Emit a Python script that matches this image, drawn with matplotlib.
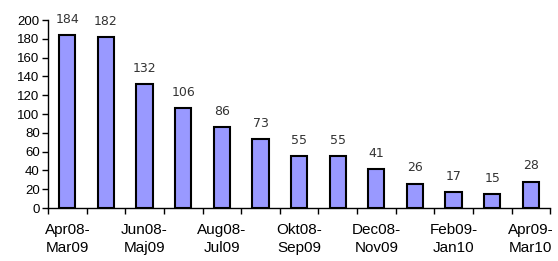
import matplotlib
matplotlib.use("Agg")
import matplotlib.pyplot as plt
import numpy as np

values = [184, 182, 132, 106, 86, 73, 55, 55, 41, 26, 17, 15, 28]
tick_labels = ["Apr08-\nMar09", "", "Jun08-\nMaj09", "", "Aug08-\nJul09", "",
               "Okt08-\nSep09", "", "Dec08-\nNov09", "", "Feb09-\nJan10", "",
               "Apr09-\nMar10"]

fig = plt.figure(figsize=(5.58, 2.61), dpi=100)
ax = fig.add_axes([0.086, 0.203, 0.900, 0.720])
x = np.arange(len(values))
ax.bar(x, values, width=0.42, color="#9999FF", edgecolor="black", linewidth=1.5, zorder=3)
for xi, v in zip(x, values):
    ax.text(xi, v + 10, str(v), ha="center", va="bottom", fontsize=9,
            family=["Liberation Sans Narrow", "DejaVu Sans"], color="#333333")

ax.set_xlim(-0.5, len(values) - 0.5)
ax.set_ylim(0, 200)
ax.set_yticks(np.arange(0, 201, 20))
ax.set_xticks(x)
ax.set_xticklabels(tick_labels, family=["Liberation Sans", "DejaVu Sans"], fontsize=11, linespacing=1.3)
ax.set_xticks(np.arange(-0.5, len(values), 1.0), minor=True)
ax.tick_params(axis="x", which="major", length=0, pad=11)
ax.tick_params(axis="x", which="minor", length=4, width=1, direction="out")
ax.tick_params(axis="y", length=4, width=1, direction="out", pad=2)
for lbl in ax.get_yticklabels():
    lbl.set_family(["Liberation Sans", "DejaVu Sans"])
    lbl.set_fontsize(9.5)
for s in ["top", "right"]:
    ax.spines[s].set_visible(False)
ax.spines["left"].set_linewidth(1)
ax.spines["bottom"].set_linewidth(1)
fig.savefig("out.png", dpi=100)
